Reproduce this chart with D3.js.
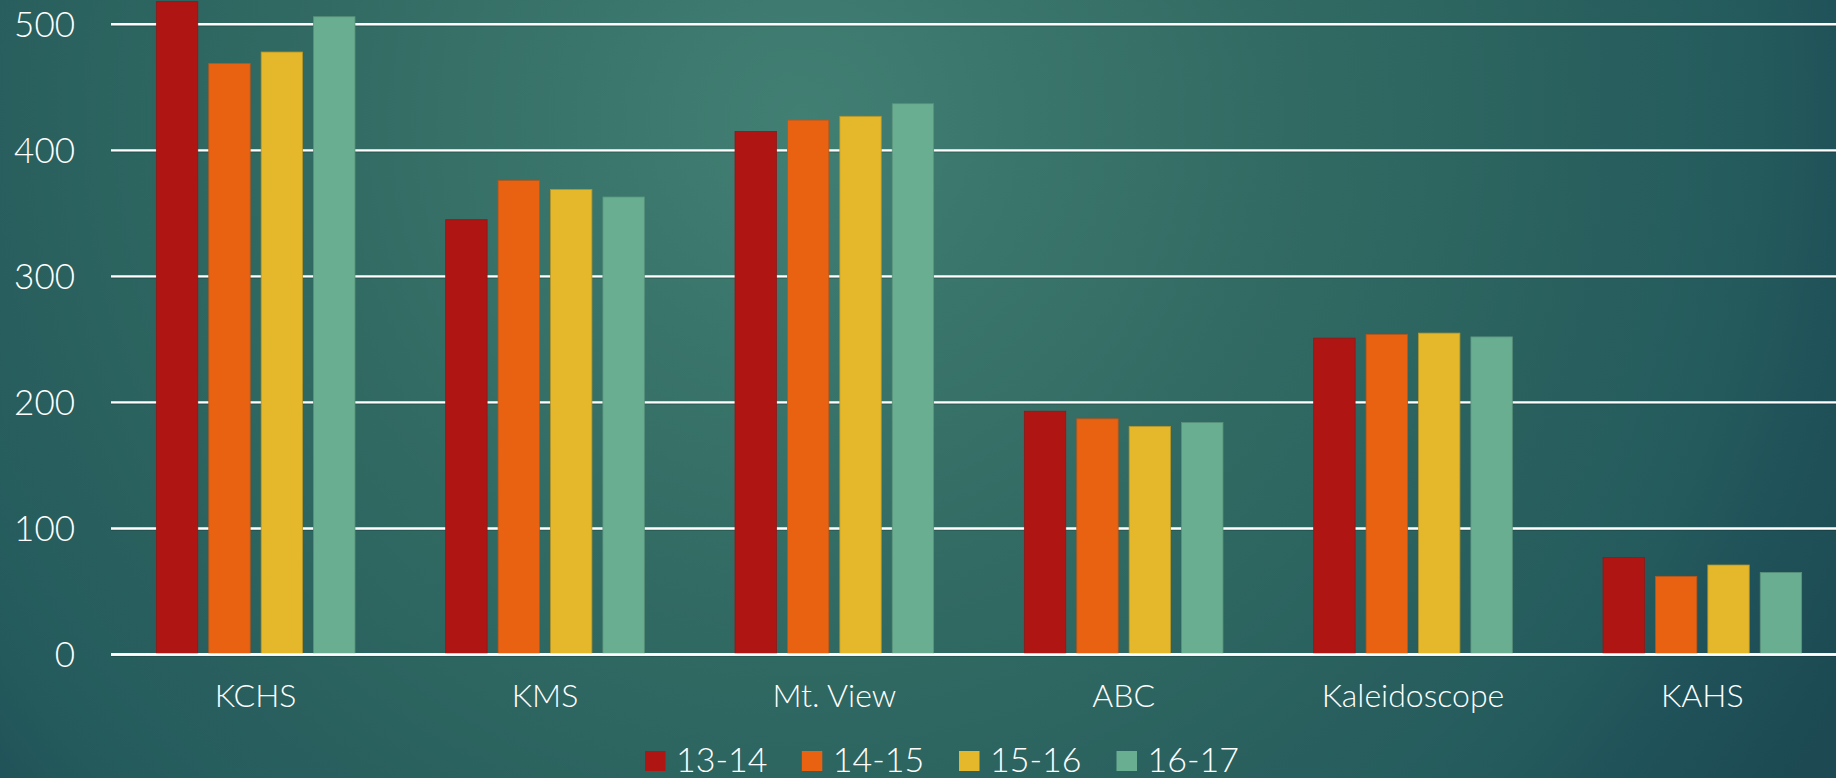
<!DOCTYPE html>
<html>
<head>
<meta charset="utf-8">
<script src="https://cdn.jsdelivr.net/npm/d3@7"></script>
<style>
  html, body { margin: 0; padding: 0; background: #1f4e56; }
  svg { display: block; }
  text { font-family: Lato, "Open Sans", "DejaVu Sans", sans-serif; fill: #ffffff; }
</style>
</head>
<body>
<svg id="chart" width="1836" height="778"></svg>
<script>
const categories = ["KCHS", "KMS", "Mt. View", "ABC", "Kaleidoscope", "KAHS"];
const seriesNames = ["13-14", "14-15", "15-16", "16-17"];
const values1314 = [518, 345, 415, 193, 251, 77];
const values1415 = [469, 376, 424, 187, 254, 62];
const values1516 = [478, 369, 427, 181, 255, 71];
const values1617 = [506, 363, 437, 184, 252, 65];
const yTicks = [0, 100, 200, 300, 400, 500];
const colors = ["#AF1513", "#E86212", "#E5B72A", "#6AAE91"];
const strokes = ["#8e1a18", "#b8561a", "#b6952a", "#5a937c"];

const seriesValues = [values1314, values1415, values1516, values1617];
const data = categories.map((c, i) => ({
  cat: c,
  vals: seriesNames.map((s, j) => ({ key: s, value: seriesValues[j][i], idx: j }))
}));

const W = 1836, H = 778;
const svg = d3.select("#chart");

// background radial gradient
const defs = svg.append("defs");
const grad = defs.append("radialGradient")
  .attr("id", "bg").attr("gradientUnits", "userSpaceOnUse")
  .attr("cx", 800).attr("cy", 120).attr("r", 1200);
[[0, "#427f73"], [0.39, "#326b63"], [0.8, "#245a5c"], [0.87, "#205259"], [1, "#1c4952"]].forEach(([o, c]) =>
  grad.append("stop").attr("offset", o).attr("stop-color", c));
svg.append("rect").attr("width", W).attr("height", H).attr("fill", "url(#bg)");

const plotLeft = 111, plotRight = 1847;
const x0 = d3.scaleBand().domain(categories).range([plotLeft, plotRight])
  .paddingInner(0.3135).paddingOuter(0.3135 / 2);
const x1 = d3.scaleBand().domain(seriesNames).range([0, x0.bandwidth()]).paddingInner(0.21);
const y = d3.scaleLinear().domain([0, 500]).range([654.5, 24.3]);

// gridlines
const grid = svg.append("g");
grid.selectAll("line.g").data(yTicks).join("line")
  .attr("x1", plotLeft).attr("x2", plotRight)
  .attr("y1", d => y(d)).attr("y2", d => y(d))
  .attr("stroke", "#ffffff").attr("stroke-width", 2.4);
grid.selectAll("line.s").data(yTicks).join("line")
  .attr("x1", plotLeft).attr("x2", plotRight)
  .attr("y1", d => y(d) + 2).attr("y2", d => y(d) + 2)
  .attr("stroke", "#000000").attr("stroke-opacity", 0.15).attr("stroke-width", 1);

// y axis labels
const yAxis = d3.axisLeft(y).tickValues(yTicks).tickSize(0).tickPadding(0);
const yg = svg.append("g").attr("transform", "translate(75,0)").call(yAxis);
yg.select(".domain").remove();
yg.selectAll("text").attr("font-size", 35).attr("fill", "#ffffff")
  .style("font-family", "Lato, 'Open Sans', sans-serif").attr("font-weight", 300)
  .attr("dy", "0.35em");

// bars
const groups = svg.append("g").selectAll("g").data(data).join("g")
  .attr("transform", d => `translate(${x0(d.cat)},0)`);
groups.selectAll("rect").data(d => d.vals).join("rect")
  .attr("x", d => x1(d.key))
  .attr("width", x1.bandwidth())
  .attr("y", d => y(d.value))
  .attr("height", d => y(0) - y(d.value))
  .attr("fill", d => colors[d.idx])
  .attr("stroke", d => strokes[d.idx]).attr("stroke-width", 0.8);

// zero line on top
svg.append("line").attr("x1", plotLeft).attr("x2", plotRight)
  .attr("y1", y(0)).attr("y2", y(0)).attr("stroke", "#ffffff").attr("stroke-width", 2.4);

// x axis labels
const xAxis = d3.axisBottom(x0).tickSize(0).tickPadding(0);
const xg = svg.append("g").attr("transform", "translate(0,707)").call(xAxis);
xg.select(".domain").remove();
xg.selectAll("text").attr("font-size", 32).attr("fill", "#ffffff")
  .style("font-family", "Lato, 'Open Sans', sans-serif").attr("font-weight", 300)
  .attr("dy", 0).attr("y", 0);

// legend
const legendX = [645, 801.8, 959, 1116.5];
const leg = svg.append("g").selectAll("g").data(seriesNames).join("g")
  .attr("transform", (d, i) => `translate(${legendX[i]},751)`);
leg.append("rect").attr("width", 20.5).attr("height", 20).attr("fill", (d, i) => colors[i]);
leg.append("text").attr("x", 31).attr("y", 20.5).attr("font-size", 34).attr("font-weight", 300)
  .text(d => d);
</script>
</body>
</html>
